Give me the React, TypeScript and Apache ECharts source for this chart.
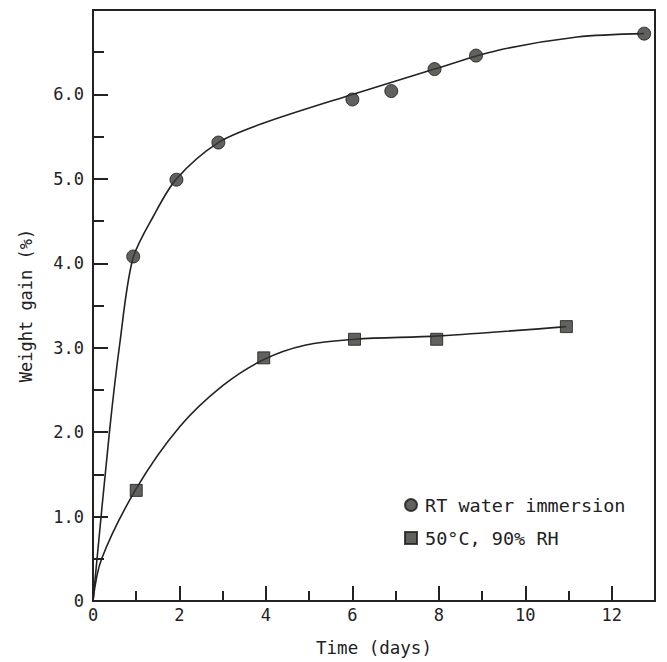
import React, { useEffect, useRef } from 'react';
import * as echarts from 'echarts';

const immersionDays = [0.93, 1.93, 2.9, 6.0, 6.9, 7.9, 8.86, 12.75];
const immersionGain = [4.08, 4.99, 5.43, 5.94, 6.04, 6.3, 6.46, 6.72];
const humidDays = [1.0, 3.95, 6.05, 7.95, 10.95];
const humidGain = [1.31, 2.88, 3.1, 3.1, 3.25];

const immersionCurveDays = [0, 0.38, 0.62, 0.92, 1.4, 1.93, 2.9, 4, 6, 7.9, 9.35, 11.2, 12.75];
const immersionCurveGain = [0, 2.0, 3.05, 4.05, 4.56, 5.0, 5.43, 5.67, 6.0, 6.3, 6.52, 6.68, 6.72];
const humidCurveDays = [0, 0.2, 1.0, 2.0, 3.0, 3.95, 4.9, 6.05, 8, 10.95];
const humidCurveGain = [0, 0.5, 1.33, 2.06, 2.55, 2.86, 3.03, 3.1, 3.14, 3.25];

const xTickLabels = ['0', '2', '4', '6', '8', '10', '12'];
const yTickLabels = ['0', '1.0', '2.0', '3.0', '4.0', '5.0', '6.0'];

const FONT = 'DejaVu Sans Mono';
const INK = '#222';
const MARK = '#3a3a36';

const zip = (a: number[], b: number[]) => a.map((v, i) => [v, b[i]]);

export default function App() {
  const ref = useRef<HTMLDivElement>(null);
  useEffect(() => {
    if (!ref.current) return;
    const chart = echarts.init(ref.current, undefined, { renderer: 'svg' });
    chart.setOption({
      animation: false,
      backgroundColor: '#fff',
      grid: {
        left: 93, right: 12, top: 10, bottom: 58,
        show: true, borderColor: INK, borderWidth: 2, backgroundColor: 'transparent',
      },
      legend: {
        orient: 'vertical',
        left: 399,
        top: 490,
        itemWidth: 12,
        itemHeight: 12,
        itemGap: 13,
        data: [
          { name: 'RT water immersion', icon: 'circle' },
          { name: '50°C, 90% RH', icon: 'rect' },
        ],
        textStyle: { fontFamily: FONT, fontSize: 18.5, color: INK, lineHeight: 20, padding: [0, 0, 0, 3] },
      },
      xAxis: [
        {
          type: 'value', min: 0, max: 13, interval: 2,
          name: 'Time (days)', nameLocation: 'middle', nameGap: 38,
          nameTextStyle: { fontFamily: FONT, fontSize: 17.5, color: INK },
          axisLine: { show: true, lineStyle: { color: INK, width: 2 } },
          axisTick: { show: true, inside: true, length: 15, lineStyle: { color: INK, width: 2 } },
          axisLabel: {
            fontFamily: FONT, fontSize: 17, color: INK, margin: 5,
            formatter: (v: number) => (v % 2 === 0 && v <= 12 ? xTickLabels[v / 2] : ''),
          },
          splitLine: { show: false },
        },
        {
          type: 'value', min: 0, max: 13, interval: 1, position: 'bottom',
          axisLine: { show: false },
          axisTick: { show: true, inside: true, length: 10, lineStyle: { color: INK, width: 2 } },
          axisLabel: { show: false },
          splitLine: { show: false },
        },
      ],
      yAxis: {
        type: 'value', min: 0, max: 7, interval: 1,
        name: 'Weight gain (%)', nameLocation: 'middle', nameGap: 59,
        nameTextStyle: { fontFamily: FONT, fontSize: 17, color: INK },
        axisLine: { show: true, lineStyle: { color: INK, width: 2 } },
        axisTick: { show: true, inside: true, length: 15, lineStyle: { color: INK, width: 2 } },
        minorTick: { show: true, splitNumber: 2, length: 11, lineStyle: { color: INK, width: 2 } },
        axisLabel: {
          fontFamily: FONT, fontSize: 17, color: INK, margin: 9,
          formatter: (v: number) => (v <= 6 ? yTickLabels[v] : ''),
        },
        splitLine: { show: false },
        minorSplitLine: { show: false },
      },
      series: [
        {
          type: 'line', name: 'immersion fit', xAxisIndex: 0,
          data: zip(immersionCurveDays, immersionCurveGain),
          smooth: 0.3, showSymbol: false, symbol: 'none',
          lineStyle: { color: INK, width: 1.6 }, silent: true, z: 2,
        },
        {
          type: 'line', name: 'humid fit', xAxisIndex: 0,
          data: zip(humidCurveDays, humidCurveGain),
          smooth: 0.35, showSymbol: false, symbol: 'none',
          lineStyle: { color: INK, width: 1.6 }, silent: true, z: 2,
        },
        {
          type: 'scatter', name: 'RT water immersion', xAxisIndex: 0,
          data: zip(immersionDays, immersionGain),
          symbol: 'circle', symbolSize: 13,
          itemStyle: { color: MARK, borderColor: '#1a1a1a', borderWidth: 1 }, z: 3,
        },
        {
          type: 'scatter', name: '50°C, 90% RH', xAxisIndex: 0,
          data: zip(humidDays, humidGain),
          symbol: 'rect', symbolSize: 12,
          itemStyle: { color: MARK, borderColor: '#1a1a1a', borderWidth: 1 }, z: 3,
        },
      ],
    });
    return () => chart.dispose();
  }, []);
  return (
    <div
      ref={ref}
      style={{ position: 'fixed', left: 0, top: 0, width: 667, height: 662, background: '#fff' }}
    />
  );
}
